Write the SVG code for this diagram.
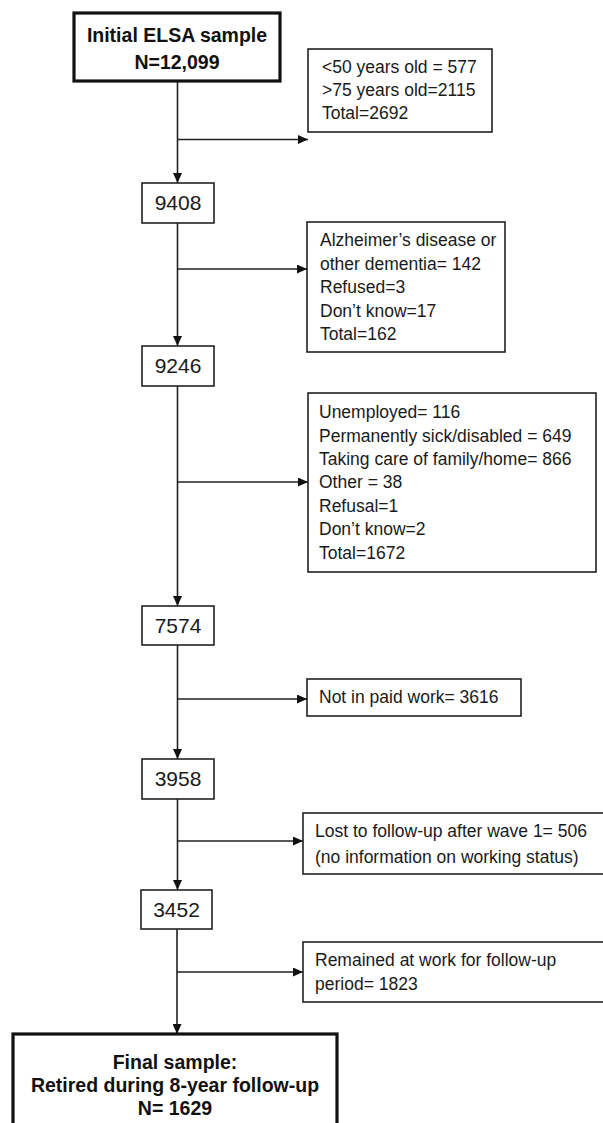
<svg xmlns="http://www.w3.org/2000/svg" width="603" height="1123" viewBox="0 0 603 1123">
<defs>
<style>
.box{fill:#fff;stroke:#222;stroke-width:1.6}
.thick{fill:#fff;stroke:#111;stroke-width:3.2}
.t{font-family:"Liberation Sans",Arial,sans-serif;font-size:17.5px;fill:#1a1a1a}
.num{font-family:"Liberation Sans",Arial,sans-serif;font-size:21px;fill:#1a1a1a;text-anchor:middle}
.b{font-family:"Liberation Sans",Arial,sans-serif;font-size:19.5px;font-weight:bold;fill:#111;text-anchor:middle}
.c{fill:none;stroke:#222;stroke-width:1.6}
</style>
<marker id="ah" markerUnits="userSpaceOnUse" markerWidth="10" markerHeight="9" refX="10" refY="4.5" orient="auto">
<path d="M0,0 L10,4.5 L0,9 z" fill="#111"/>
</marker>
</defs>
<rect width="603" height="1123" fill="#fff"/>
<g id="connectors">
<line class="c" x1="177.5" y1="81" x2="177.5" y2="183" marker-end="url(#ah)"/>
<line class="c" x1="177.5" y1="139.5" x2="308" y2="139.5" marker-end="url(#ah)"/>
<line class="c" x1="177.5" y1="223" x2="177.5" y2="346" marker-end="url(#ah)"/>
<line class="c" x1="177.5" y1="269" x2="307" y2="269" marker-end="url(#ah)"/>
<line class="c" x1="177.5" y1="386" x2="177.5" y2="606" marker-end="url(#ah)"/>
<line class="c" x1="177.5" y1="482" x2="308" y2="482" marker-end="url(#ah)"/>
<line class="c" x1="177.5" y1="645" x2="177.5" y2="759" marker-end="url(#ah)"/>
<line class="c" x1="177.5" y1="699" x2="307" y2="699" marker-end="url(#ah)"/>
<line class="c" x1="177.5" y1="799" x2="177.5" y2="890" marker-end="url(#ah)"/>
<line class="c" x1="177.5" y1="841" x2="303" y2="841" marker-end="url(#ah)"/>
<line class="c" x1="177" y1="929" x2="177" y2="1034" marker-end="url(#ah)"/>
<line class="c" x1="177" y1="972" x2="303" y2="972" marker-end="url(#ah)"/>
</g>
<g id="initial">
<rect class="thick" x="74" y="13" width="206" height="68"/>
<text class="b" x="177" y="42">Initial ELSA sample</text>
<text class="b" x="177" y="69">N=12,099</text>
</g>
<g id="excl1">
<rect class="box" x="308" y="49" width="184" height="83"/>
<text class="t" x="322" y="73">&lt;50 years old = 577</text>
<text class="t" x="322" y="96">&gt;75 years old=2115</text>
<text class="t" x="322" y="119">Total=2692</text>
</g>
<g id="n9408">
<rect class="box" x="142" y="183" width="72" height="40"/>
<text class="num" x="178" y="210">9408</text>
</g>
<g id="excl2">
<rect class="box" x="307" y="222" width="198" height="130"/>
<text class="t" x="320" y="246">Alzheimer’s disease or</text>
<text class="t" x="320" y="270">other dementia= 142</text>
<text class="t" x="320" y="293">Refused=3</text>
<text class="t" x="320" y="317">Don’t know=17</text>
<text class="t" x="320" y="340">Total=162</text>
</g>
<g id="n9246">
<rect class="box" x="142" y="346" width="72" height="40"/>
<text class="num" x="178" y="373">9246</text>
</g>
<g id="excl3">
<rect class="box" x="308" y="393" width="288" height="179"/>
<text class="t" x="319" y="418">Unemployed= 116</text>
<text class="t" x="319" y="442">Permanently sick/disabled = 649</text>
<text class="t" x="319" y="465">Taking care of family/home= 866</text>
<text class="t" x="319" y="488">Other = 38</text>
<text class="t" x="319" y="512">Refusal=1</text>
<text class="t" x="319" y="535">Don’t know=2</text>
<text class="t" x="319" y="559">Total=1672</text>
</g>
<g id="n7574">
<rect class="box" x="142" y="606" width="72" height="39"/>
<text class="num" x="178" y="633">7574</text>
</g>
<g id="excl4">
<rect class="box" x="307" y="679" width="214" height="37"/>
<text class="t" x="319" y="703">Not in paid work= 3616</text>
</g>
<g id="n3958">
<rect class="box" x="142" y="759" width="72" height="40"/>
<text class="num" x="178" y="786">3958</text>
</g>
<g id="excl5">
<rect class="box" x="303" y="813" width="304" height="61"/>
<text class="t" x="315" y="837">Lost to follow-up after wave 1= 506</text>
<text class="t" x="315" y="863">(no information on working status)</text>
</g>
<g id="n3452">
<rect class="box" x="141" y="890" width="71" height="39"/>
<text class="num" x="176.5" y="917">3452</text>
</g>
<g id="excl6">
<rect class="box" x="303" y="942" width="304" height="60"/>
<text class="t" x="315" y="966">Remained at work for follow-up</text>
<text class="t" x="315" y="990">period= 1823</text>
</g>
<g id="final">
<rect class="thick" x="13" y="1034" width="324" height="100"/>
<text class="b" x="175" y="1069">Final sample:</text>
<text class="b" x="175" y="1092">Retired during 8-year follow-up</text>
<text class="b" x="175" y="1115">N= 1629</text>
</g>
</svg>
